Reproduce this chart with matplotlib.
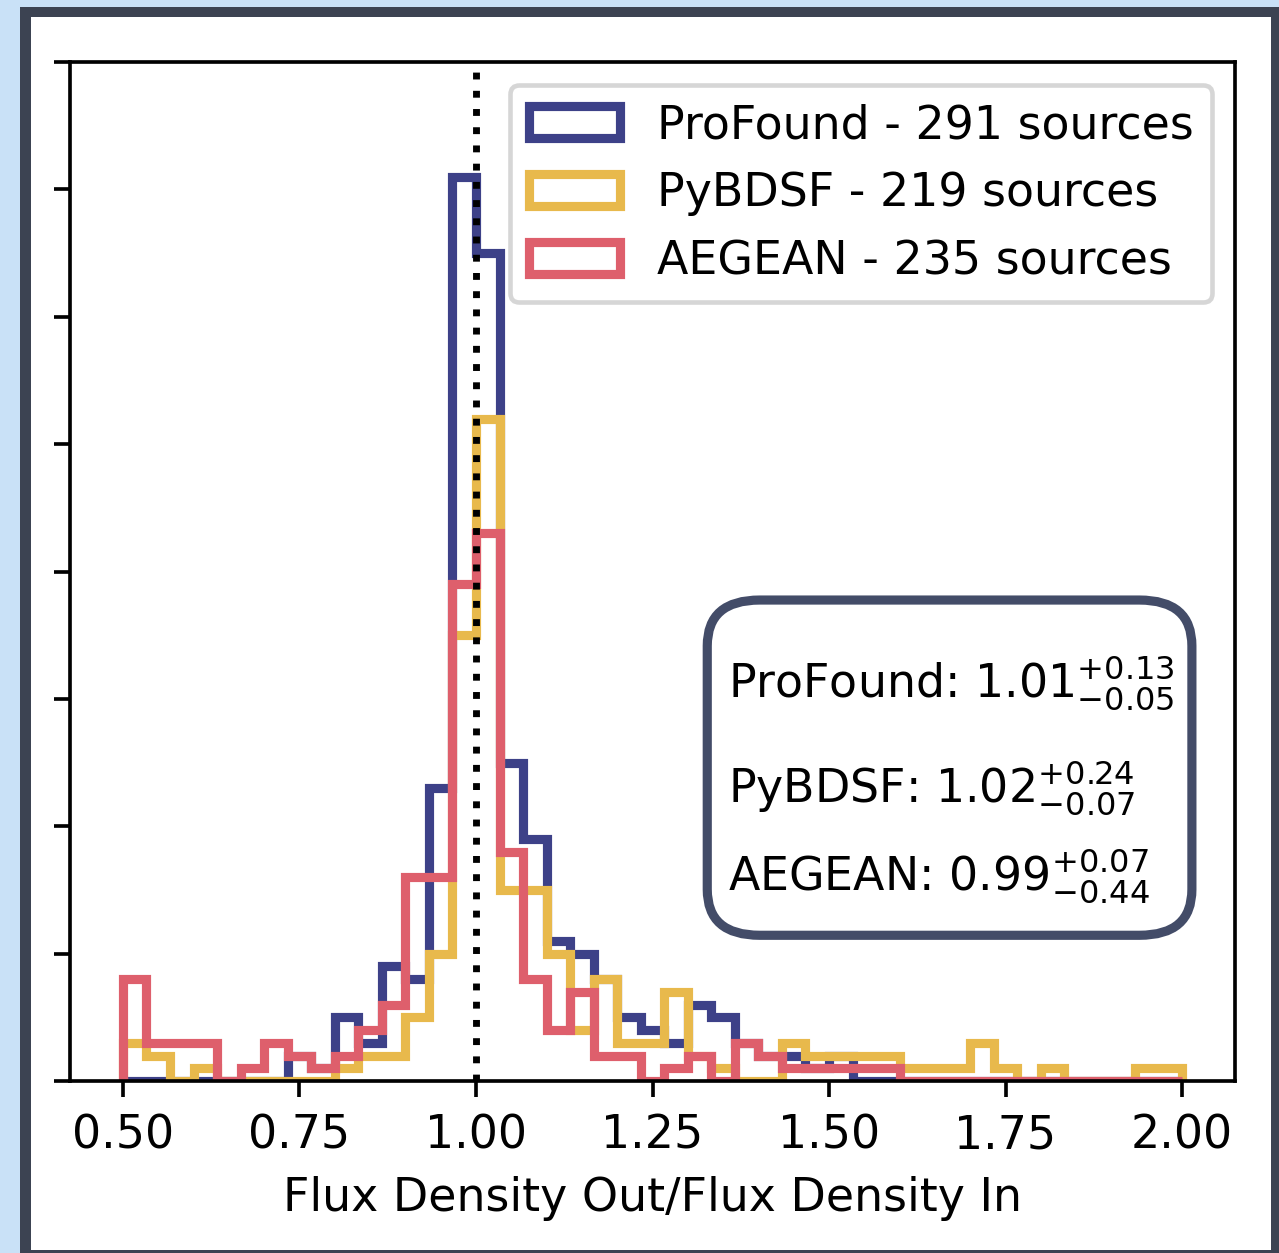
#Flux density ratio histograms for three source finders
import numpy as np
import matplotlib.pyplot as plt
from matplotlib.patches import Rectangle, FancyBboxPatch

# 45 bins between 0.5 and 2.0
edges = np.linspace(0.5, 2.0, 46)

profound = [0, 0, 0, 0, 0, 0, 0, 2, 1, 5, 3, 9, 8, 23, 71, 65, 25, 19, 11, 10, 8, 5, 4,
            3, 6, 5, 3, 2, 2, 1, 2, 0, 0, 0, 0, 0, 0, 0, 0, 0, 0, 0, 0, 0, 0]
pybdsf = [3, 2, 0, 1, 0, 0, 0, 0, 0, 1, 2, 2, 5, 10, 35, 52, 15, 15, 10, 4, 8, 3, 3,
          7, 2, 1, 0, 0, 3, 2, 2, 2, 2, 1, 1, 1, 3, 1, 0, 1, 0, 0, 0, 1, 1]
aegean = [8, 3, 3, 3, 0, 1, 3, 2, 1, 2, 4, 6, 16, 16, 39, 43, 18, 8, 4, 7, 2, 2, 0,
          1, 2, 0, 3, 2, 1, 1, 1, 1, 1, 0, 0, 0, 0, 0, 0, 0, 0, 0, 0, 0, 0]

series = [profound, pybdsf, aegean]
labels = ["ProFound - 291 sources", "PyBDSF - 219 sources", "AEGEAN - 235 sources"]
colors = ["#3d4188", "#e8b94c", "#de5f6c"]

names = ["ProFound", "PyBDSF", "AEGEAN"]
medians = ["1.01", "1.02", "0.99"]
upper = ["0.13", "0.24", "0.07"]
lower = ["0.05", "0.07", "0.44"]

xticks = [0.5, 0.75, 1.0, 1.25, 1.5, 1.75, 2.0]

W, H, DPI = 1279, 1253, 330
fig = plt.figure(figsize=(W / DPI, H / DPI), dpi=DPI)
fig.patch.set_facecolor("#c9e1f7")

# dark frame and white card behind the plot
fig.add_artist(Rectangle((20 / W, 0), 1, 1 - 7 / H, transform=fig.transFigure,
                         facecolor="#3c4352", edgecolor="none", zorder=-2))
fig.add_artist(Rectangle((31 / W, 3 / H), (1271 - 31) / W, (1250 - 17) / H,
                         transform=fig.transFigure, facecolor="white",
                         edgecolor="none", zorder=-1))

ax = fig.add_axes([70 / W, 1 - 1081 / H, (1235 - 70) / W, (1081 - 62) / H])

centers = (edges[:-1] + edges[1:]) / 2
for counts, lab, col in zip(series, labels, colors):
    ax.hist(centers, bins=edges, weights=counts, histtype="step", color=col,
            lw=2, label=lab)

ax.axvline(1.0, color="k", ls=":", lw=1.5)

ax.set_ylim(0, 80)
ax.set_yticks(np.arange(0, 81, 10))
ax.set_yticklabels([])
ax.set_xticks(xticks)
ax.set_xticklabels([f"{t:.2f}" for t in xticks])
ax.set_xlabel("Flux Density Out/Flux Density In")

ax.legend(loc="upper right")

# rounded box with the median ratios
ax.add_patch(FancyBboxPatch((0.547, 0.143), 0.416, 0.329,
                            boxstyle="round,pad=0,rounding_size=0.045",
                            transform=ax.transAxes, facecolor="white",
                            edgecolor="#434c68", lw=2, zorder=5))
for i, (n, m, u, l) in enumerate(zip(names, medians, upper, lower)):
    ax.text(0.565, [0.376, 0.273, 0.187][i], f"{n}: ${m}^{{+{u}}}_{{-{l}}}$",
            transform=ax.transAxes, ha="left", va="baseline", zorder=6)

fig.savefig("out.png", dpi=DPI)
